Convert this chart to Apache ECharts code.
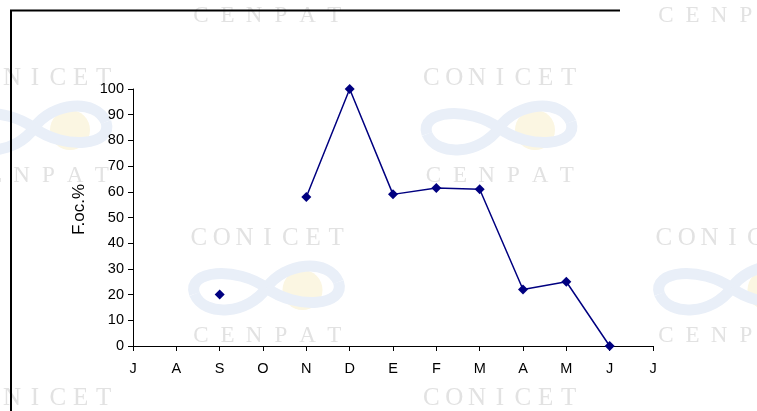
<!DOCTYPE html>
<html>
<head>
<meta charset="utf-8">
<script src="https://cdn.jsdelivr.net/npm/echarts@6/dist/echarts.min.js"></script>
<style>
  html, body { margin: 0; padding: 0; background: #fff; }
  #chart { width: 757px; height: 411px; }
</style>
</head>
<body>
<div id="chart"></div>
<script>
  // meses (jul -> jul)
  var months = ['J', 'A', 'S', 'O', 'N', 'D', 'E', 'F', 'M', 'A', 'M', 'J', 'J'];
  // frecuencia de ocurrencia, % (null = sin dato)
  var foc = [null, null, 20, null, 58, 100, 59, 61.5, 61, 22, 25, 0, null];
  var yTicks = [0, 10, 20, 30, 40, 50, 60, 70, 80, 90, 100];

  // marca de agua CONICET / CENPAT (letras espaciadas)
  var marks = [];
  function spaced(word, x, y, w, size) {
    var step = w / word.length;
    for (var k = 0; k < word.length; k++) {
      marks.push({
        type: 'text', z: -10, silent: true,
        style: { text: word[k], x: x + step * (k + 0.5), y: y, fill: '#e2e2e2',
          font: size + 'px "Liberation Serif"', textAlign: 'center', textVerticalAlign: 'middle' }
      });
    }
  }
  // lazo del logo, cuatro curvas alrededor del centro
  var loop = [
    [0, 0, 18, -26, 62, -30, 72, -6],
    [72, -6, 80, 18, 30, 22, 0, 0],
    [0, 0, -18, 26, -62, 30, -72, 6],
    [-72, 6, -80, -18, -30, -22, 0, 0]
  ];
  function logo(cx, cy) {
    marks.push({
      type: 'circle', z: -12, silent: true,
      shape: { cx: cx + 36, cy: cy + 2, r: 20 },
      style: { fill: '#fbf6e2' }
    });
    loop.forEach(function (c) {
      marks.push({
        type: 'bezierCurve', z: -11, silent: true,
        shape: { x1: cx + c[0], y1: cy + c[1], cpx1: cx + c[2], cpy1: cy + c[3],
                 cpx2: cx + c[4], cpy2: cy + c[5], x2: cx + c[6], y2: cy + c[7] },
        style: { fill: null, stroke: '#e9eff8', lineWidth: 11 }
      });
    });
  }
  var cols = [-45, 187.5, 420, 652.5];
  cols.forEach(function (x, i) {
    var off = (i % 2 === 0) ? 0 : 160;
    [-320, 0, 320].forEach(function (dy) {
      spaced('CONICET', x, 78 + off + dy, 160, 25);
      spaced('CENPAT', x, 176 + off + dy, 160, 23);
      logo(x + 79, 128 + off + dy);
    });
  });
  marks.push({
    type: 'polyline', silent: true,
    shape: { points: [[11, 420], [11, 10.5], [620, 10.5]] },
    style: { stroke: '#000', lineWidth: 2, fill: null }
  });

  var chart = echarts.init(document.getElementById('chart'));
  chart.setOption({
    animation: false,
    graphic: marks,
    grid: { left: 133, right: 104, top: 89, bottom: 65, containLabel: false },
    xAxis: {
      type: 'category',
      data: months,
      boundaryGap: false,
      axisLine: { lineStyle: { color: '#000', width: 1 } },
      axisTick: { show: true, length: 5, lineStyle: { color: '#000' } },
      axisLabel: { color: '#000', fontSize: 14.5, fontFamily: 'Liberation Sans', margin: 15, interval: 0 },
      splitLine: { show: false }
    },
    yAxis: {
      type: 'value',
      min: yTicks[0],
      max: yTicks[yTicks.length - 1],
      interval: 10,
      name: 'F.oc.%',
      nameLocation: 'middle',
      nameGap: 45,
      nameRotate: 90,
      nameTextStyle: { color: '#000', fontSize: 17, fontFamily: 'Liberation Sans', padding: [0, 0, 0, 16] },
      axisLine: { show: true, lineStyle: { color: '#000', width: 1 } },
      axisTick: { show: true, length: 5, lineStyle: { color: '#000' } },
      axisLabel: { color: '#000', fontSize: 14.5, fontFamily: 'Liberation Sans', margin: 9 },
      splitLine: { show: false }
    },
    series: [{
      type: 'line',
      data: foc,
      connectNulls: false,
      symbol: 'diamond',
      symbolSize: 10,
      showAllSymbol: true,
      lineStyle: { color: '#000080', width: 1.5 },
      itemStyle: { color: '#000080' }
    }]
  });
</script>
</body>
</html>
